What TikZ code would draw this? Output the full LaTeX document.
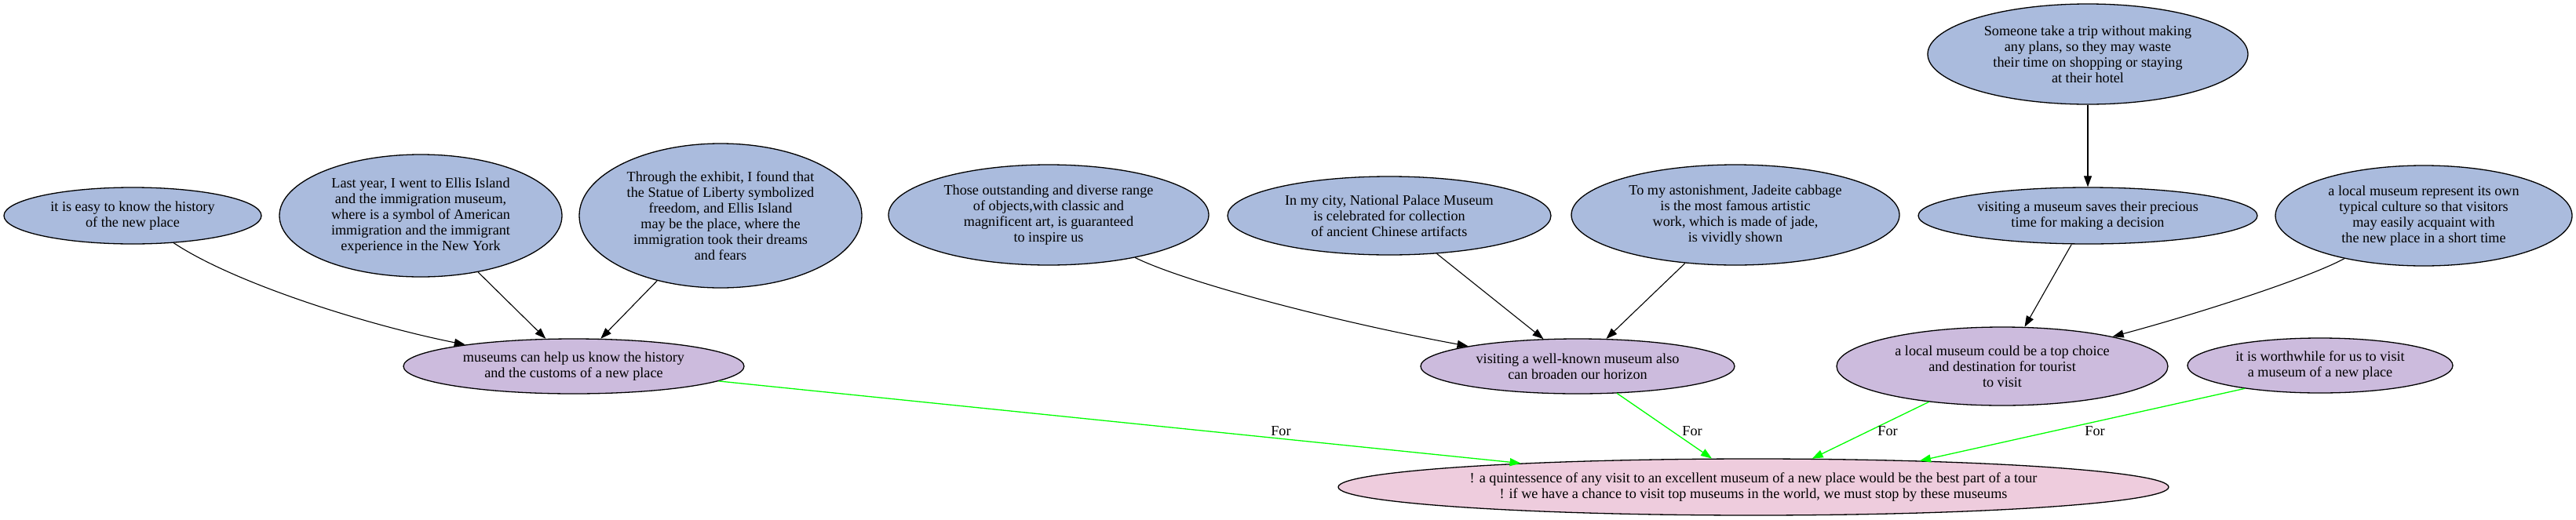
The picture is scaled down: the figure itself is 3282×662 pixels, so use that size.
\documentclass[tikz,border=0pt]{standalone}
\usepackage{fontspec}
\setmainfont{Liberation Serif}
\usetikzlibrary{shapes.geometric,arrows.meta}
\definecolor{nblue}{HTML}{AABBDD}
\definecolor{npurple}{HTML}{CCBBDD}
\definecolor{npink}{HTML}{EECCDD}
\definecolor{egreen}{HTML}{00FF00}
\tikzset{
  ell/.style={ellipse, draw=black, line width=1.3pt, inner sep=0pt, align=center,
    font=\fontsize{18.2}{20}\selectfont},
  premise/.style={ell, fill=nblue},
  claim/.style={ell, fill=npurple},
  thesis/.style={ell, fill=npink},
  sup/.style={draw=black, line width=1.1pt, -{Triangle[length=14pt,width=10pt]}},
  pro/.style={draw=egreen, line width=1.3pt, -{Triangle[length=14pt,width=10pt]}},
  flabel/.style={font=\fontsize{18.2}{20}\selectfont, inner sep=1pt}
}
\begin{document}
\begin{tikzpicture}[x=1pt,y=-1pt]
\useasboundingbox (0,0) rectangle (3282,662);
% premises
\node[premise, minimum width=328pt, minimum height=72pt] (N1) at (169,275)
  {it is easy to know the history\\of the new place};
\node[premise, minimum width=360pt, minimum height=156pt] (N2) at (536,275)
  {Last year, I went to Ellis Island\\and the immigration museum,\\where is a symbol of American\\immigration and the immigrant\\experience in the New York};
\node[premise, minimum width=360pt, minimum height=184pt] (N3) at (918,275)
  {Through the exhibit, I found that\\the Statue of Liberty symbolized\\freedom, and Ellis Island\\may be the place, where the\\immigration took their dreams\\and fears};
\node[premise, minimum width=408pt, minimum height=128pt] (N4) at (1336,274)
  {Those outstanding and diverse range\\of objects,with classic and\\magnificent art, is guaranteed\\to inspire us};
\node[premise, minimum width=412pt, minimum height=100pt] (N5) at (1770,275)
  {In my city, National Palace Museum\\is celebrated for collection\\of ancient Chinese artifacts};
\node[premise, minimum width=418pt, minimum height=128pt] (N6) at (2211,274)
  {To my astonishment, Jadeite cabbage\\is the most famous artistic\\work, which is made of jade,\\is vividly shown};
\node[premise, minimum width=408pt, minimum height=128pt] (N7) at (2660,69)
  {Someone take a trip without making\\any plans, so they may waste\\their time on shopping or staying\\at their hotel};
\node[premise, minimum width=432pt, minimum height=72pt] (N8) at (2660,275)
  {visiting a museum saves their precious\\time for making a decision};
\node[premise, minimum width=378pt, minimum height=128pt] (N9) at (3088,275)
  {a local museum represent its own\\typical culture so that visitors\\may easily acquaint with\\the new place in a short time};
% claims
\node[claim, minimum width=434pt, minimum height=70pt] (M1) at (731,467)
  {museums can help us know the history\\and the customs of a new place};
\node[claim, minimum width=400pt, minimum height=70pt] (M2) at (2010,467)
  {visiting a well-known museum also\\can broaden our horizon};
\node[claim, minimum width=422pt, minimum height=100pt] (M3) at (2551,467)
  {a local museum could be a top choice\\and destination for tourist\\to visit};
\node[claim, minimum width=338pt, minimum height=70pt] (M4) at (2956,466)
  {it is worthwhile for us to visit\\a museum of a new place};
% thesis
\node[thesis, minimum width=1058pt, minimum height=72pt] (F) at (2234,621)
  {! a quintessence of any visit to an excellent museum of a new place would be the best part of a tour\\! if we have a chance to visit top museums in the world, we must stop by these museums};
% support edges
\draw[sup] (N1) .. controls (300,362) and (470,415) .. (M1);
\draw[sup] (N2) -- (M1);
\draw[sup] (N3) -- (M1);
\draw[sup] (N4) .. controls (1510,360) and (1700,410) .. (M2);
\draw[sup] (N5) -- (M2);
\draw[sup] (N6) -- (M2);
\draw[sup] (N7) -- (N8);
\draw[sup] (N8) -- (M3);
\draw[sup] (N9) .. controls (2940,355) and (2800,400) .. (M3);
% pro edges
\draw[pro] (M1) -- (F);
\draw[pro] (M2) -- (F);
\draw[pro] (M3) -- (F);
\draw[pro] (M4.197) -- (F.9.8);
% labels
\node[flabel] (L1) at (1632,550) {For};
\node[flabel] (L2) at (2156,550) {For};
\node[flabel] (L3) at (2405,550) {For};
\node[flabel] (L4) at (2669,550) {For};
\end{tikzpicture}
\end{document}
